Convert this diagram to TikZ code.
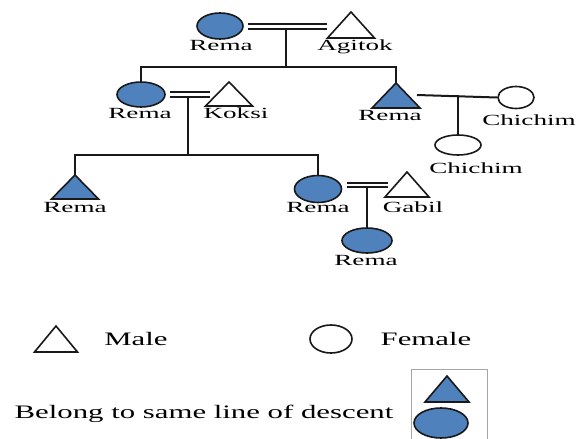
\documentclass[tikz,border=0pt]{standalone}
\usepackage{fontspec}
\usepackage{graphicx}
\setmainfont{Liberation Serif}
\usetikzlibrary{shapes.geometric}
\definecolor{lineblue}{RGB}{79,129,189}
\newcommand{\lbl}[1]{\scalebox{1.75}[1]{#1}}
\newcommand{\lgd}[1]{\scalebox{1.62}[1]{#1}}
% #1 name, #2 apex x, #3 apex y, #4 half width, #5 height, #6 options
\newcommand{\ptri}[6]{\draw[tri,#6] (#2,#3) coordinate (#1) -- ++(#4,#5) coordinate (#1-r) -- ++(-2*#4,0) coordinate (#1-l) -- cycle;}
\begin{document}
\begin{tikzpicture}[x=1pt,y=-1pt,
 conn/.style={line width=2pt, black!90},
 marr/.style={line width=1.8pt, black!90, double, double distance=2.8pt},
 fem/.style={ellipse, draw=black!90, line width=1.6pt, inner sep=0pt},
 lin/.style={fill=lineblue},
 tri/.style={draw=black!90, line width=1.6pt, line join=miter},
 lab/.style={font=\fontsize{15.5}{16}\selectfont, anchor=base, inner sep=0pt},
 leg/.style={font=\fontsize{19}{20}\selectfont, anchor=base, inner sep=0pt}]
\useasboundingbox (0,0) rectangle (576,439);

% ---- coordinates for connectors
\coordinate (m1a) at (248,26.5); \coordinate (m1b) at (327,26.5);
\coordinate (d1) at (286,28.5); \coordinate (s1) at (286,67);
\coordinate (m2a) at (170,94.5); \coordinate (m2b) at (210,94.5);
\coordinate (d2) at (188,96.5); \coordinate (s2) at (188,155);
\coordinate (m3a) at (417,95); \coordinate (d3) at (458,95);
\coordinate (m4a) at (347,185); \coordinate (m4b) at (388,185);
\coordinate (d4) at (367,187);

% ---- shapes
\node[fem,lin,minimum width=46pt,minimum height=26pt] (rema1) at (220,26) {};
\ptri{agitok}{351}{12}{23.5}{26}{fill=white}
\node[fem,lin,minimum width=48pt,minimum height=25pt] (rema2) at (141,94.5) {};
\ptri{koksi}{229}{82}{23.5}{24}{fill=white}
\ptri{rema3}{396}{83}{24}{25}{lin}
\node[fem,fill=white,minimum width=36pt,minimum height=22pt] (chichim1) at (516,97.5) {};
\node[fem,fill=white,minimum width=46pt,minimum height=20pt] (chichim2) at (458,145) {};
\ptri{rema4}{75}{175}{23.5}{24}{lin}
\node[fem,lin,minimum width=47pt,minimum height=27pt] (rema5) at (318,189) {};
\ptri{gabil}{407}{172}{22}{25}{fill=white}
\node[fem,lin,minimum width=50pt,minimum height=25pt] (rema6) at (367,240.5) {};

% ---- connectors
\draw[marr] (m1a) -- (m1b);
\draw[conn] (d1) -- (s1);
\draw[conn] (rema2.north) -- (rema2.north |- s1) -- (rema3 |- s1) -- (rema3);
\draw[marr] (m2a) -- (m2b);
\draw[conn] (d2) -- (s2);
\draw[conn] (rema4) -- (rema4 |- s2) -- (rema5.north |- s2) -- (rema5.north);
\draw[conn] (m3a) -- (chichim1.west);
\draw[conn] (d3) -- (chichim2.north);
\draw[marr] (m4a) -- (m4b);
\draw[conn] (d4) -- (rema6.north);

% ---- names
\node[lab] (rema1-t) at (221,50) {\lbl{Rema}};
\node[lab] (agitok-t) at (355,50) {\lbl{Agitok}};
\node[lab] (rema2-t) at (140,118) {\lbl{Rema}};
\node[lab] (koksi-t) at (236,118) {\lbl{Koksi}};
\node[lab] (rema3-t) at (390,120) {\lbl{Rema}};
\node[lab] (chichim1-t) at (529,125) {\lbl{Chichim}};
\node[lab] (chichim2-t) at (476,173) {\lbl{Chichim}};
\node[lab] (rema4-t) at (75,212) {\lbl{Rema}};
\node[lab] (rema5-t) at (318,212) {\lbl{Rema}};
\node[lab] (gabil-t) at (413,212) {\lbl{Gabil}};
\node[lab] (rema6-t) at (366,265) {\lbl{Rema}};

% ---- legend
\ptri{male}{56}{326}{21.5}{26}{fill=white}
\node[leg] (male-t) at (136,345) {\lgd{Male}};
\node[fem,fill=white,minimum width=42pt,minimum height=28pt] (female) at (331,339) {};
\node[leg] (female-t) at (426,345) {\lgd{Female}};
\node[leg] (desc-t) at (204,418) {\lgd{Belong to same line of descent}};
\node[draw=gray!70,line width=0.8pt,minimum width=76pt,minimum height=76pt,inner sep=0pt] (box) at (449,407) {};
\ptri{desctri}{447}{376}{22}{26}{lin}
\node[fem,lin,minimum width=54pt,minimum height=30pt] (desccirc) at (441,423) {};
\end{tikzpicture}
\end{document}
